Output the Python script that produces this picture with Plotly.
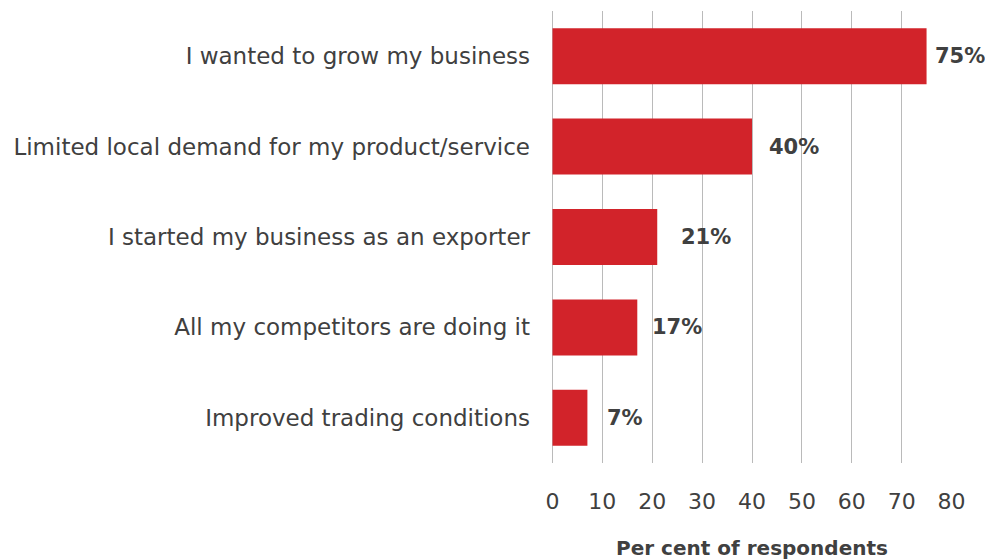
import plotly.graph_objects as go

# Reasons for exporting, top to bottom
categories = [
    "I wanted to grow my business",
    "Limited local demand for my product/service",
    "I started my business as an exporter",
    "All my competitors are doing it",
    "Improved trading conditions",
]
values = [75, 40, 21, 17, 7]
value_labels = ["75%", "40%", "21%", "17%", "7%"]
label_shift_px = [6, 15, 22, 13, 18]
x_ticks = [0, 10, 20, 30, 40, 50, 60, 70, 80]

FONT = "DejaVu Sans"
TEXT = "#404040"
RED = "#d2232a"
GRID = "#bababa"

fig = go.Figure(
    go.Bar(
        x=values,
        y=categories,
        orientation="h",
        marker=dict(color=RED, line=dict(width=0)),
        width=0.62,
        hoverinfo="x+y",
    )
)

for cat, v, lab, sh in zip(categories, values, value_labels, label_shift_px):
    fig.add_annotation(
        x=v, y=cat, text=f"<b>{lab}</b>", showarrow=False,
        xanchor="left", yanchor="middle", xshift=sh,
        font=dict(family=FONT, size=21, color=TEXT),
    )

fig.update_layout(
    width=985, height=560,
    margin=dict(l=552, r=33, t=11, b=97),
    paper_bgcolor="white", plot_bgcolor="white",
    showlegend=False,
    bargap=0.38,
    font=dict(family=FONT, color=TEXT),
)

fig.update_xaxes(
    range=[-0.1, 80.1],
    tickvals=x_ticks,
    ticktext=[str(t) for t in x_ticks],
    showgrid=True, gridcolor=GRID, gridwidth=1.3,
    zeroline=True, zerolinecolor=GRID, zerolinewidth=1.3,
    showline=False,
    tickfont=dict(family=FONT, size=22, color=TEXT),
    ticklabelstandoff=23,
    title=dict(text="<b>Per cent of respondents</b>",
               font=dict(family=FONT, size=20, color=TEXT), standoff=37),
    automargin=False,
    fixedrange=True,
)

fig.update_yaxes(
    categoryorder="array",
    categoryarray=categories[::-1],
    showgrid=False, zeroline=False, showline=False,
    tickfont=dict(family=FONT, size=23, color=TEXT),
    ticklabelstandoff=21,
    automargin=False,
    fixedrange=True,
)

fig.write_html("out.html")
